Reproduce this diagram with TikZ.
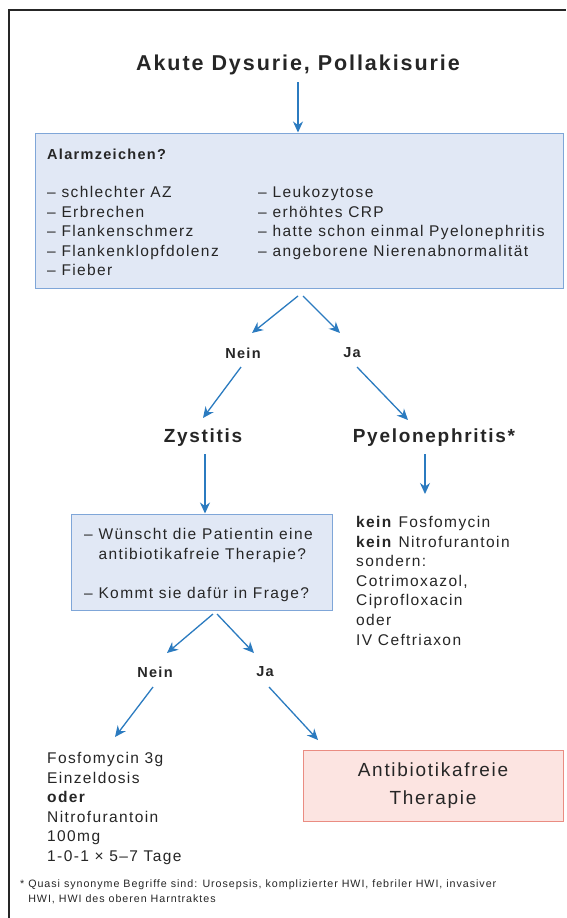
\documentclass[tikz,border=0pt]{standalone}
\usepackage{fontspec}
\setmainfont[LetterSpace=9]{Liberation Sans}
\usetikzlibrary{arrows.meta}
\definecolor{arr}{HTML}{2B7BC0}
\definecolor{bfill}{HTML}{E1E8F5}
\definecolor{bdraw}{HTML}{7FA6D8}
\definecolor{rfill}{HTML}{FCE4E1}
\definecolor{rdraw}{HTML}{EA8C82}
\definecolor{txt}{HTML}{262626}
\tikzset{
  flow/.style={draw=arr, line width=1.3pt, -{Stealth[length=11pt,width=10pt]}},
  lbl/.style={font=\fontsize{14.5}{16}\selectfont\bfseries, text=txt, inner sep=0pt},
  head/.style={font=\fontsize{19}{20}\selectfont\bfseries, text=txt, inner sep=0pt},
  body/.style={font=\fontsize{15.5}{19.6}\selectfont, text=txt, inner sep=0pt, align=left, anchor=north west},
}
\begin{document}
\begin{tikzpicture}[x=1pt,y=-1pt]
\useasboundingbox (0,0) rectangle (566,918);
\fill[white] (0,0) rectangle (566,918);
% outer frame
\draw[line width=1.2pt, black!85] (9,918) -- (9,10) -- (566,10);

\node[font=\fontsize{21.5}{22}\selectfont\bfseries, text=txt, inner sep=0pt] (title) at (298,65) {Akute Dysurie, Pollakisurie};

\node[draw=bdraw, fill=bfill, line width=1pt, minimum width=528pt, minimum height=155pt, inner sep=0pt] (alarm) at (299,210.5) {};
\node[body, font=\fontsize{14.5}{16}\selectfont\bfseries] (alarmt) at (47,149) {Alarmzeichen?};
\node[body] (l1) at (47,186) {– schlechter AZ\\– Erbrechen\\– Flankenschmerz\\– Flankenklopfdolenz\\– Fieber};
\node[body] (l2) at (258,186) {– Leukozytose\\– erhöhtes CRP\\– hatte schon einmal Pyelonephritis\\– angeborene Nierenabnormalität};

\coordinate (a1) at (298,296);
\coordinate (a2) at (303,296);
\node[lbl] (nein1) at (243,353) {Nein};
\node[lbl] (ja1) at (352,353) {Ja};
\node[head] (zys) at (203,438) {Zystitis};
\node[head] (pye) at (434,438) {Pyelonephritis*};

\draw[flow] (298,82) -- (alarm.north -| 298,0);
\draw[flow] (a1) -- (252,333);
\draw[flow] (a2) -- (340,333);
\draw[flow] (241,367) -- (203,418);
\draw[flow] (357,367) -- (408,420);

\node[draw=bdraw, fill=bfill, line width=1pt, minimum width=261pt, minimum height=96pt, inner sep=0pt] (q) at (201.5,562) {};
\node[body] (q1) at (84,528) {– Wünscht die Patientin eine\\\phantom{– }antibiotikafreie Therapie?\\[20pt]– Kommt sie dafür in Frage?};

\draw[flow] (205,454) -- (q.north -| 205,0);
\draw[flow] (425,454) -- (425,494);

\node[body] (pyt) at (356,516) {\textbf{kein} Fosfomycin\\\textbf{kein} Nitrofurantoin\\sondern:\\Cotrimoxazol,\\Ciprofloxacin\\oder\\IV Ceftriaxon};

\node[lbl] (nein2) at (155,672) {Nein};
\node[lbl] (ja2) at (265,672) {Ja};
\draw[flow] (213,614) -- (167,653);
\draw[flow] (217,614) -- (254,653);
\draw[flow] (153,687) -- (115,737);
\draw[flow] (269,687) -- (318,740);

\node[body] (fos) at (47,752) {Fosfomycin 3g\\Einzeldosis\\\textbf{oder}\\Nitrofurantoin\\100mg\\1-0-1 × 5–7 Tage};

\node[draw=rdraw, fill=rfill, line width=1pt, minimum width=260pt, minimum height=71pt, inner sep=0pt, align=center, font=\fontsize{19}{28}\selectfont, text=txt] (anti) at (433,785.5) {Antibiotikafreie\\Therapie};

\node[body, font=\fontsize{10.7}{15}\selectfont] (foot) at (20,880) {* Quasi synonyme Begriffe sind: Urosepsis, komplizierter HWI, febriler HWI, invasiver\\\phantom{* }HWI, HWI des oberen Harntraktes};
\end{tikzpicture}
\end{document}
